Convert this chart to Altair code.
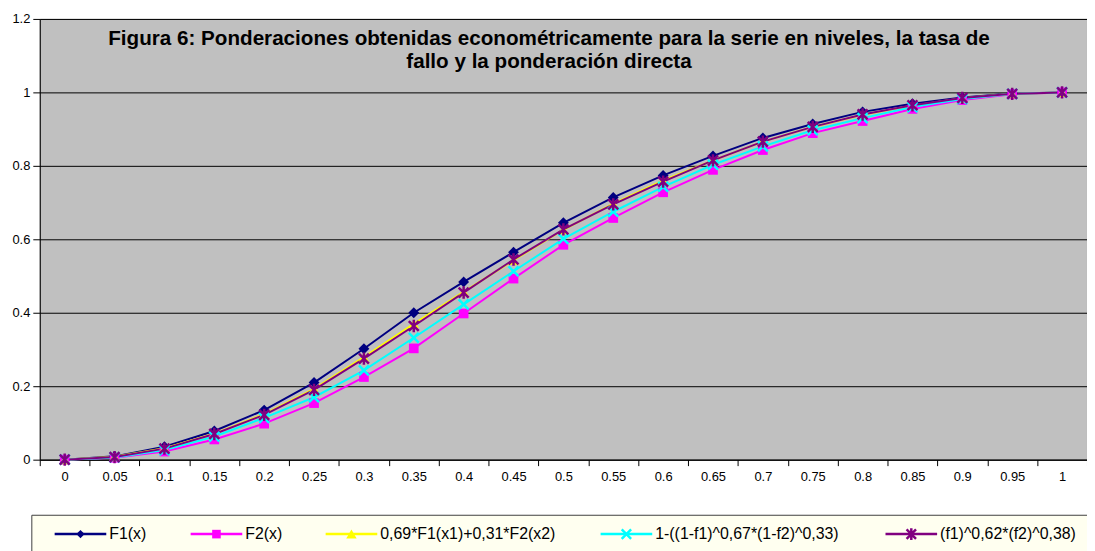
import altair as alt
import pandas as pd

X_LABELS = ["0", "0.05", "0.1", "0.15", "0.2", "0.25", "0.3", "0.35", "0.4", "0.45", "0.5",
            "0.55", "0.6", "0.65", "0.7", "0.75", "0.8", "0.85", "0.9", "0.95", "1"]

SERIES = ["F1(x)", "F2(x)", "0,69*F1(x1)+0,31*F2(x2)",
          "1-((1-f1)^0,67*(1-f2)^0,33)", "(f1)^0,62*(f2)^0,38)"]

F1 = [0, 0.009, 0.035, 0.078, 0.135, 0.210, 0.302, 0.400, 0.484, 0.565, 0.645,
      0.714, 0.774, 0.827, 0.876, 0.914, 0.947, 0.969, 0.986, 0.997, 1.0]
F2 = [0, 0.005, 0.022, 0.055, 0.098, 0.154, 0.225, 0.303, 0.398, 0.493, 0.585,
      0.658, 0.728, 0.789, 0.843, 0.889, 0.922, 0.955, 0.979, 0.995, 1.0]
MIX = [0, 0.008, 0.031, 0.071, 0.124, 0.193, 0.279, 0.370, 0.457, 0.543, 0.626,
       0.697, 0.760, 0.815, 0.866, 0.906, 0.939, 0.964, 0.984, 0.996, 1.0]
SURV = [0, 0.006, 0.026, 0.063, 0.114, 0.170, 0.243, 0.332, 0.423, 0.513, 0.601,
        0.675, 0.743, 0.803, 0.853, 0.897, 0.930, 0.960, 0.982, 0.996, 1.0]
GEO = [0, 0.007, 0.030, 0.070, 0.122, 0.190, 0.275, 0.364, 0.455, 0.545, 0.627,
       0.695, 0.757, 0.815, 0.866, 0.906, 0.940, 0.965, 0.985, 0.996, 1.0]

COLORS = ["#000080", "#FF00FF", "#FFFF00", "#00FFFF", "#800080"]

Y_TICKS = [0, 0.2, 0.4, 0.6, 0.8, 1.0, 1.2]

TITLE = ("Figura 6: Ponderaciones obtenidas econométricamente para la serie en niveles, la tasa de\n"
         "fallo y la ponderación directa")

FONT = "Liberation Sans"

# plot markers
X_PATH = "M-1,-1L1,1M-1,1L1,-1"
STAR_PATH = "M-1,-1L1,1M-1,1L1,-1M0,-1.25V1.25"
POINT_STYLE = [
    dict(shape="diamond", filled=True, size=120, strokeWidth=1),
    dict(shape="square", filled=True, size=95, strokeWidth=1),
    dict(shape="triangle-up", filled=True, size=110, strokeWidth=1),
    dict(shape=X_PATH, filled=False, size=100, strokeWidth=2.5),
    dict(shape=STAR_PATH, filled=False, size=100, strokeWidth=2.5),
]

# legend layout (pixels relative to the plot origin)
LEGEND_X = [15, 152, 288, 565, 852]
LEGEND_Y = 519
LEGEND_LINE = 52
LEGEND_STYLE = [
    dict(shape="diamond", filled=True, size=70, strokeWidth=1),
    dict(shape="square", filled=True, size=75, strokeWidth=1),
    dict(shape="triangle-up", filled=True, size=110, strokeWidth=1),
    dict(shape=X_PATH, filled=False, size=90, strokeWidth=2.5),
    dict(shape=STAR_PATH, filled=False, size=90, strokeWidth=2.5),
]

rows = []
for s, vals in zip(SERIES, [F1, F2, MIX, SURV, GEO]):
    for i, (xl, v) in enumerate(zip(X_LABELS, vals)):
        rows.append({"x": xl, "series": s, "value": v, "order": i})
df = pd.DataFrame(rows)

x_enc = alt.X(
    "x:N", sort=X_LABELS,
    scale=alt.Scale(type="band", domain=X_LABELS, paddingInner=0, paddingOuter=0),
    axis=alt.Axis(title=None, labelAngle=0, tickBand="extent", tickSize=6,
                  tickColor="black", domainColor="black", labelPadding=5,
                  labelFontSize=13, labelFont=FONT, labelColor="black", grid=False),
)
y_enc = alt.Y(
    "value:Q",
    scale=alt.Scale(domain=[0, 1.2], nice=False, zero=False),
    axis=alt.Axis(title=None, values=Y_TICKS, format=".1~f", tickSize=7,
                  tickColor="black", domainColor="black", labelPadding=3,
                  labelFontSize=13, labelFont=FONT, labelColor="black",
                  grid=True, gridColor="#000000"),
)

base = alt.Chart(df)

lines = base.mark_line(strokeWidth=2).encode(
    x=x_enc, y=y_enc,
    color=alt.Color("series:N", scale=alt.Scale(domain=SERIES, range=COLORS), legend=None),
    order="order:Q",
)

point_layers = []
for s, c, st in zip(SERIES, COLORS, POINT_STYLE):
    point_layers.append(
        base.transform_filter(alt.datum.series == s)
        .mark_point(color=c, opacity=1, **st)
        .encode(x=x_enc, y=y_enc)
    )

# legend drawn as marks
one = pd.DataFrame({"k": [0]})
legend_layers = [
    alt.Chart(one).mark_rect(fill="#FFFFF0", stroke="#404040", strokeWidth=1).encode(
        x=alt.value(-8), x2=alt.value(1062),
        y=alt.value(LEGEND_Y - 19), y2=alt.value(LEGEND_Y + 26),
    )
]
for s, c, st, lx in zip(SERIES, COLORS, LEGEND_STYLE, LEGEND_X):
    legend_layers.append(
        alt.Chart(one).mark_rule(color=c, strokeWidth=2.5).encode(
            x=alt.value(lx), x2=alt.value(lx + LEGEND_LINE), y=alt.value(LEGEND_Y))
    )
    legend_layers.append(
        alt.Chart(one).mark_point(color=c, opacity=1, **st).encode(
            x=alt.value(lx + LEGEND_LINE / 2), y=alt.value(LEGEND_Y))
    )
    legend_layers.append(
        alt.Chart(one).mark_text(text=s, align="left", baseline="middle", font=FONT,
                                 fontSize=16, color="black").encode(
            x=alt.value(lx + LEGEND_LINE + 3), y=alt.value(LEGEND_Y))
    )

title = alt.Chart(pd.DataFrame({"t": [TITLE]})).mark_text(
    font=FONT, fontWeight="bold", fontSize=20.8, lineBreak="\n", lineHeight=23,
    align="center", baseline="alphabetic", color="black",
).encode(text="t:N", x=alt.value(513), y=alt.value(26))

chart = alt.layer(lines, *point_layers, *legend_layers, title).properties(
    width=1055, height=444,
    autosize=alt.AutoSizeParams(type="none"),
    padding={"left": 32, "top": 9, "right": 0, "bottom": 90},
    background="white",
).configure_view(fill="#C0C0C0", stroke="#808080", strokeWidth=1)

chart.save("out.html", embed_options={"renderer": "svg", "actions": False})
